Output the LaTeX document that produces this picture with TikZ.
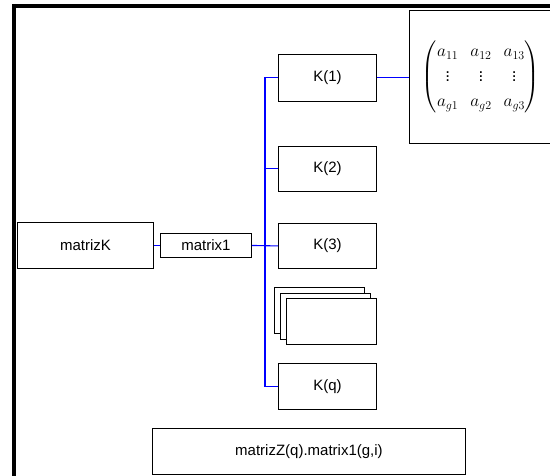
\documentclass[tikz,border=0pt]{standalone}
\usepackage{amsmath}
\usepackage{fontspec}
\setmainfont{Liberation Sans}
\begin{document}
\begin{tikzpicture}[x=1pt,y=-1pt,
  box/.style={draw=black,line width=0.9pt,fill=white,inner sep=0pt,anchor=north west,
    font=\fontsize{15}{18}\selectfont},
  link/.style={color=blue,line width=1.1pt},
  border/.style={line width=4pt,black}]
\useasboundingbox (0,0) rectangle (550,476);
\clip (0,0) rectangle (550,476);
\fill[white] (0,0) rectangle (550,476);
% thick borders
\draw[border] (12,6) -- (550,6);
\draw[border] (14,4) -- (14,476);
% nodes
\node[box,minimum width=136pt,minimum height=46pt] (mk) at (17,222) {matrizK};
\node[box,minimum width=91pt,minimum height=24pt] (m1) at (160,233) {matrix1};
\node[box,minimum width=98pt,minimum height=47pt] (k1) at (278,54) {K(1)};
\node[box,minimum width=98pt,minimum height=45pt] (k2) at (278,146) {K(2)};
\node[box,minimum width=98pt,minimum height=45pt] (k3) at (278,223) {K(3)};
\node[box,minimum width=90pt,minimum height=46pt] (s1) at (274,287) {};
\node[box,minimum width=90pt,minimum height=46pt] (s2) at (280,293) {};
\node[box,minimum width=90pt,minimum height=46pt] (s3) at (286,298) {};
\node[box,minimum width=98pt,minimum height=46pt] (kq) at (278,363) {K(q)};
\node[box,minimum width=313pt,minimum height=46pt] (bz) at (152,428) {matrizZ(q).matrix1(g,i)};
\node[box,minimum width=170pt,minimum height=133pt] (mx) at (409,10) {};
\node (mt) at (481,77) {\fontsize{17}{20}\selectfont$\setlength{\arraycolsep}{6pt}\renewcommand{\arraystretch}{1.25}
  \begin{pmatrix} a_{11} & a_{12} & a_{13}\\ \vdots & \vdots & \vdots\\ a_{g1} & a_{g2} & a_{g3}\end{pmatrix}$};
% connectors
\coordinate (t) at (265,245);
\draw[link] (mk.east) -- (m1.west);
\draw[link] (m1.east) -- (k3.west);
\draw[link] (k1.west) -| (t) |- (kq.west);
\draw[link] (t |- k2.west) -- (k2.west);
\draw[link] (k1.east) -- (mx.west |- k1.east);
\end{tikzpicture}
\end{document}
